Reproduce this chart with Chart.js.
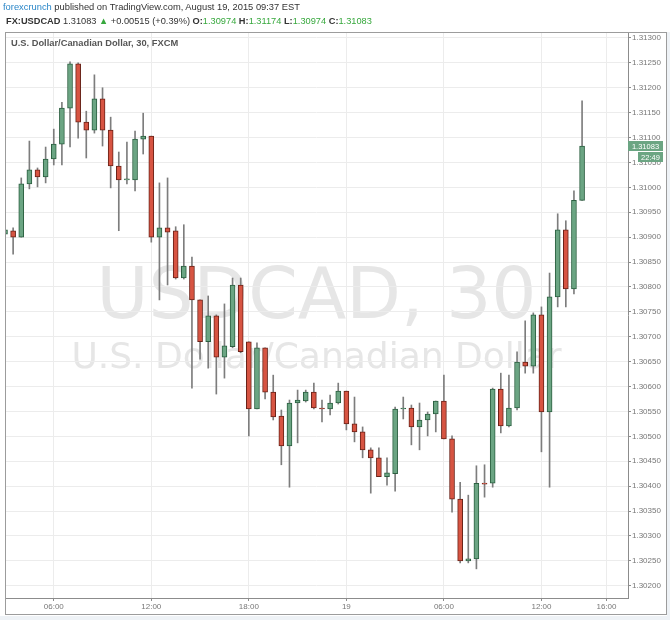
<!DOCTYPE html>
<html>
<head>
<meta charset="utf-8">
<script src="https://cdn.jsdelivr.net/npm/chart.js@4.4.0/dist/chart.umd.min.js"></script>
<style>
html,body{margin:0;padding:0;background:#fff;}
#wrap{position:relative;width:670px;height:620px;overflow:hidden;background:#fff;}
#c{position:absolute;left:0;top:0;}
.t{position:absolute;white-space:nowrap;font-family:"Liberation Sans",Arial,sans-serif;line-height:12px;color:#333;}
.g{color:#37a83d;}
.blue{color:#2a86c8;}
#h3{color:#555;font-weight:bold;}
</style>
</head>
<body>
<div id="wrap">
<canvas id="c" width="670" height="620"></canvas>
<div class="t" id="h1" style="left:3px;top:1px;font-size:9.5px;"><span class="blue">forexcrunch</span> published on TradingView.com, August 19, 2015 09:37 EST</div>
<div class="t" id="h2" style="left:6px;top:15px;font-size:9.5px;"><b>FX:USDCAD</b> 1.31083 <span class="g">&#9650;</span> +0.00515 (+0.39%) <b>O:</b><span class="g">1.30974</span> <b>H:</b><span class="g">1.31174</span> <b>L:</b><span class="g">1.30974</span> <b>C:</b><span class="g">1.31083</span></div>
<div class="t" id="h3" style="left:11px;top:37px;font-size:9px;">U.S. Dollar/Canadian Dollar, 30, FXCM</div>
</div>
<script>
// ---- data (30-minute bars, USDCAD) ----
const opens  = [1.30906,1.30913,1.30900,1.31007,1.31035,1.31021,1.31057,1.31087,1.31159,1.31248,
                1.31131,1.31115,1.31178,1.31115,1.31043,1.31015,1.31015,1.31097,1.31103,1.30900,
                1.30919,1.30913,1.30818,1.30842,1.30774,1.30690,1.30742,1.30659,1.30680,1.30804,
                1.30690,1.30555,1.30678,1.30589,1.30541,1.30481,1.30567,1.30571,1.30589,1.30557,
                1.30555,1.30567,1.30591,1.30525,1.30509,1.30473,1.30457,1.30419,1.30425,1.30555,
                1.30557,1.30519,1.30533,1.30545,1.30571,1.30495,1.30374,1.30250,1.30254,1.30406,
                1.30406,1.30595,1.30521,1.30557,1.30649,1.30641,1.30744,1.30549,1.30780,1.30915,
                1.30796,1.30974];
const highs  = [1.30949,1.30919,1.31019,1.31093,1.31039,1.31081,1.31117,1.31171,1.31252,1.31250,
                1.31153,1.31226,1.31200,1.31141,1.31071,1.31091,1.31113,1.31149,1.31103,1.31009,
                1.31019,1.30921,1.30925,1.30860,1.30774,1.30782,1.30744,1.30766,1.30818,1.30818,
                1.30690,1.30688,1.30678,1.30623,1.30553,1.30573,1.30593,1.30593,1.30607,1.30573,
                1.30583,1.30607,1.30591,1.30579,1.30519,1.30477,1.30477,1.30457,1.30559,1.30579,
                1.30563,1.30567,1.30549,1.30571,1.30623,1.30501,1.30408,1.30382,1.30441,1.30443,
                1.30597,1.30627,1.30623,1.30670,1.30732,1.30748,1.30760,1.30828,1.30947,1.30933,
                1.30993,1.31174];
const lows   = [1.30894,1.30866,1.30900,1.30997,1.31001,1.31009,1.31045,1.31045,1.31081,1.31099,
                1.31059,1.31109,1.31083,1.30999,1.30913,1.31007,1.30993,1.31067,1.30890,1.30774,
                1.30804,1.30816,1.30816,1.30597,1.30655,1.30637,1.30585,1.30617,1.30678,1.30668,
                1.30501,1.30555,1.30575,1.30533,1.30443,1.30398,1.30487,1.30569,1.30555,1.30529,
                1.30543,1.30565,1.30513,1.30489,1.30457,1.30386,1.30419,1.30402,1.30390,1.30535,
                1.30483,1.30473,1.30501,1.30509,1.30495,1.30348,1.30246,1.30246,1.30234,1.30378,
                1.30398,1.30507,1.30519,1.30553,1.30627,1.30627,1.30469,1.30398,1.30760,1.30760,
                1.30786,1.30974];
const closes = [1.30915,1.30900,1.31007,1.31035,1.31021,1.31057,1.31087,1.31159,1.31248,1.31131,
                1.31115,1.31178,1.31115,1.31043,1.31015,1.31017,1.31097,1.31103,1.30900,1.30919,
                1.30910,1.30818,1.30842,1.30774,1.30690,1.30742,1.30659,1.30682,1.30804,1.30670,
                1.30555,1.30678,1.30589,1.30539,1.30481,1.30567,1.30573,1.30589,1.30557,1.30555,
                1.30567,1.30591,1.30525,1.30509,1.30473,1.30457,1.30419,1.30427,1.30555,1.30557,
                1.30519,1.30533,1.30545,1.30571,1.30495,1.30374,1.30250,1.30254,1.30406,1.30404,
                1.30595,1.30521,1.30557,1.30649,1.30641,1.30744,1.30549,1.30780,1.30915,1.30796,
                1.30974,1.31083];
// x-axis ticks: bar index -> label
const timeTickIdx    = [6, 18, 30, 42, 54, 66, 74];
const timeTickLabels = ['06:00','12:00','18:00','19','06:00','12:00','16:00'];
// y-axis ticks
const priceTicks = [1.30200,1.30250,1.30300,1.30350,1.30400,1.30450,1.30500,1.30550,1.30600,1.30650,
                    1.30700,1.30750,1.30800,1.30850,1.30900,1.30950,1.31000,1.31050,1.31100,1.31150,
                    1.31200,1.31250,1.31300];
const lastPrice = 1.31083;
const countdown = '22:49';

const UP = '#6ba583', DOWN = '#d75442', UPB = '#2b5f40', DOWNB = '#6a2218', WICK = '#7d7d7d';
const isUp = i => closes[i] >= opens[i];
const idx = opens.map((_, i) => i);
const bodies = idx.map(i => ({x: i, y: [opens[i], closes[i]]}));
const wicks  = idx.map(i => ({x: i, y: [lows[i], highs[i]]}));

// fit header text widths
function fit(id, w) {
  const el = document.getElementById(id);
  let fs = parseFloat(el.style.fontSize);
  for (let k = 0; k < 6; k++) {
    const cw = el.getBoundingClientRect().width;
    fs = fs * w / cw;
    el.style.fontSize = fs + 'px';
  }
}
fit('h1', 297); fit('h2', 366); fit('h3', 167);

const decor = {
  id: 'decor',
  beforeDraw(chart) {
    const {ctx, chartArea: a} = chart;
    ctx.save();
    ctx.fillStyle = '#eef2f6';
    ctx.fillRect(0, 616, 670, 4);
    ctx.fillRect(667, 32, 3, 588);
    ctx.beginPath();
    ctx.rect(a.left, a.top, a.right - a.left, a.bottom - a.top);
    ctx.clip();
    ctx.fillStyle = '#e6e6e6';
    ctx.textAlign = 'center';
    ctx.textBaseline = 'alphabetic';
    const cx = (a.left + a.right) / 2;
    ctx.font = '71px "DejaVu Sans"';
    ctx.fillText('USDCAD, 30', cx, 318);
    ctx.font = '36px "DejaVu Sans"';
    ctx.fillText('U.S. Dollar/Canadian Dollar', cx, 368);
    ctx.restore();
  },
  afterDraw(chart) {
    const {ctx, chartArea: a, scales} = chart;
    ctx.save();
    ctx.strokeStyle = '#9c9c9c';
    ctx.lineWidth = 1;
    ctx.strokeRect(5.5, 32.5, 661, 582);
    const y = Math.round(scales.y.getPixelForValue(lastPrice));
    ctx.fillStyle = UP;
    ctx.fillRect(a.right, y - 5, 35, 10);
    ctx.fillRect(a.right + 10, y + 6, 25, 10);
    ctx.fillStyle = '#fff';
    ctx.font = '7.5px "Liberation Sans"';
    ctx.textBaseline = 'middle';
    ctx.textAlign = 'center';
    ctx.fillText(lastPrice.toFixed(5), a.right + 17.5, y + 0.5);
    ctx.fillText(countdown, a.right + 22.5, y + 11.5);
    ctx.restore();
  }
};

new Chart(document.getElementById('c'), {
  type: 'bar',
  data: {
    datasets: [
      {
        label: 'body', data: bodies, order: 0, grouped: false,
        barThickness: 5, minBarLength: 1, borderSkipped: false, borderWidth: 1,
        backgroundColor: c => isUp(c.dataIndex) ? UP : DOWN,
        borderColor: c => isUp(c.dataIndex) ? UPB : DOWNB
      },
      {
        label: 'wick', data: wicks, order: 1, grouped: false,
        barThickness: 1, borderWidth: 0, backgroundColor: WICK
      }
    ]
  },
  options: {
    responsive: false,
    animation: false,
    layout: {padding: {left: 5, top: 32, right: 4, bottom: 5}},
    plugins: {legend: {display: false}, tooltip: {enabled: false}},
    scales: {
      x: {
        type: 'linear', min: 0, max: 76.65, offset: false,
        grid: {color: '#ececec', offset: false, drawTicks: true, tickLength: 3, tickColor: '#8c8c8c'},
        border: {display: true, color: '#8c8c8c'},
        ticks: {
          autoSkip: false, maxRotation: 0, padding: 1, color: '#777',
          font: {size: 8, family: '"Liberation Sans"'},
          callback: v => { const k = timeTickIdx.indexOf(v); return k >= 0 ? timeTickLabels[k] : ''; }
        },
        afterBuildTicks: s => { s.ticks = timeTickIdx.map(v => ({value: v})); },
        afterFit: s => { s.height = 17; }
      },
      y: {
        position: 'right', min: 1.301755, max: 1.31312,
        grid: {color: '#ececec', drawTicks: true, tickLength: 3, tickColor: '#8c8c8c'},
        border: {display: true, color: '#8c8c8c'},
        ticks: {
          padding: 1, color: '#777', font: {size: 8, family: '"Liberation Sans"'},
          callback: v => Number(v).toFixed(5)
        },
        afterBuildTicks: s => { s.ticks = priceTicks.map(v => ({value: v})); },
        afterFit: s => { s.width = 38; }
      }
    }
  },
  plugins: [decor]
});
</script>
</body>
</html>
